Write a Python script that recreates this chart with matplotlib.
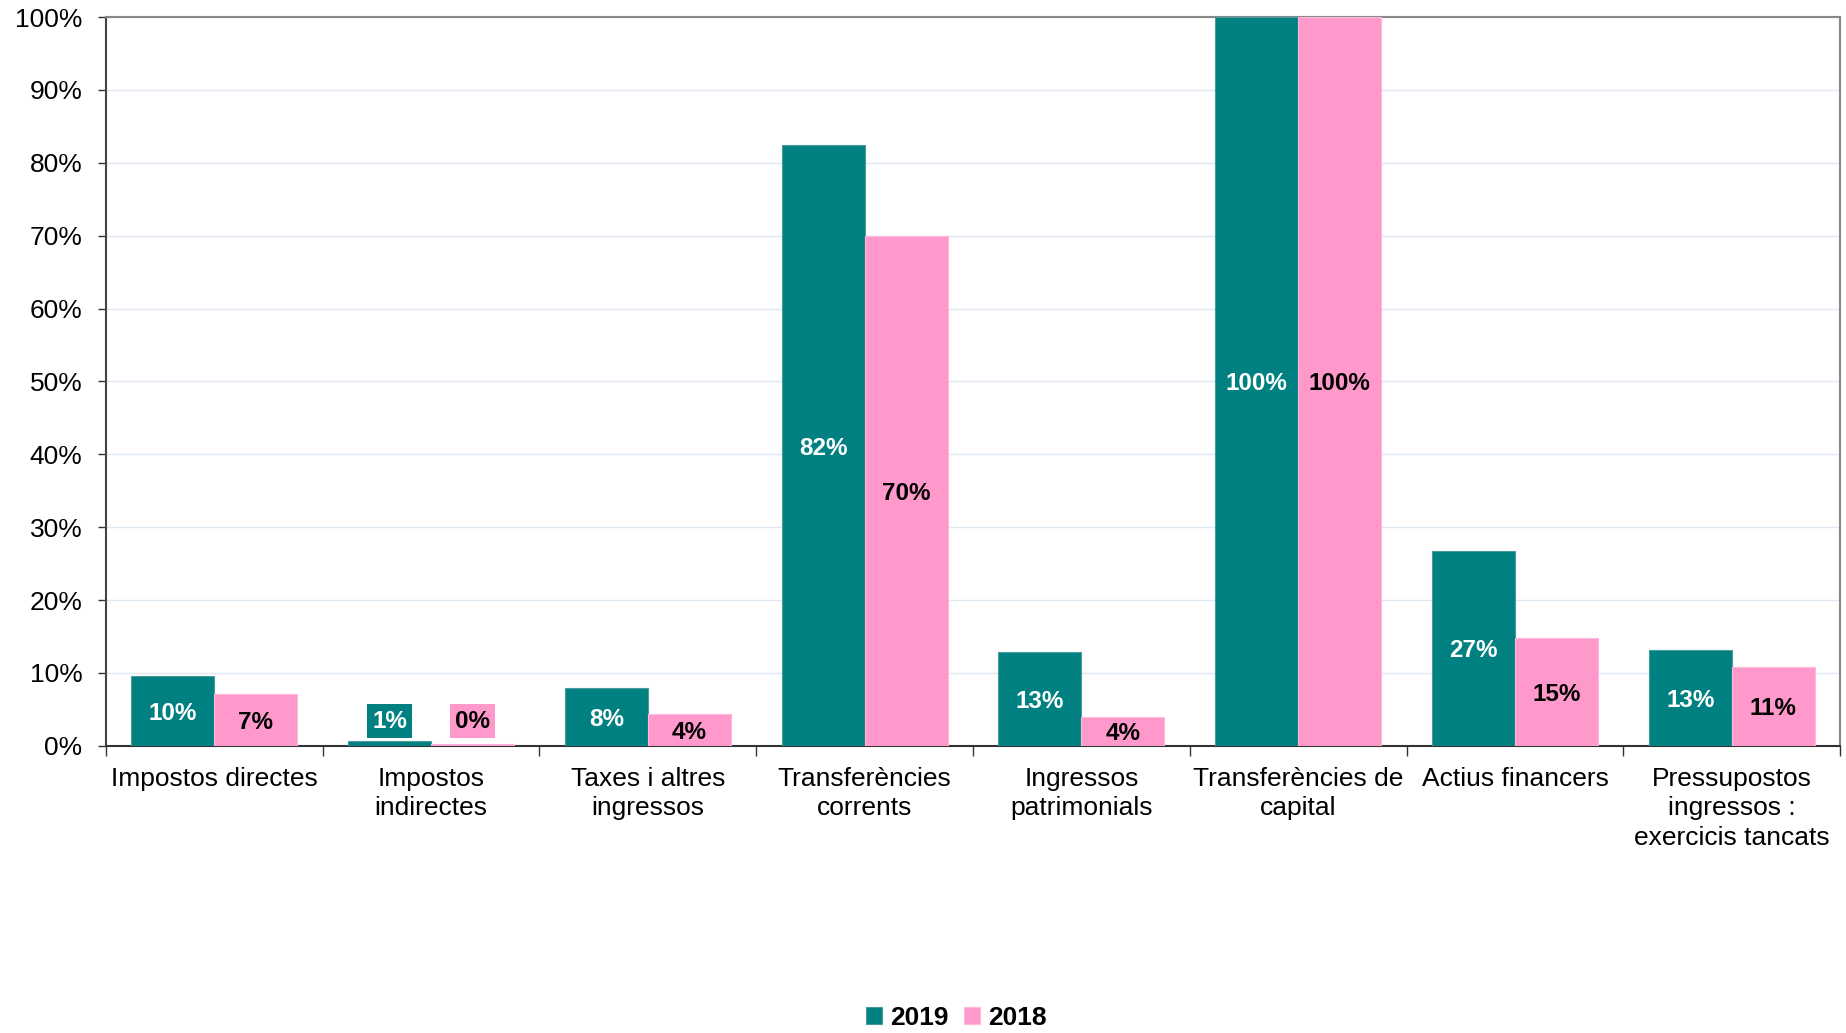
import numpy as np
import matplotlib.pyplot as plt

plt.rcParams['font.family'] = ['Liberation Sans', 'DejaVu Sans']

categories = ["Impostos directes", "Impostos\nindirectes", "Taxes i altres\ningressos",
              "Transferències\ncorrents", "Ingressos\npatrimonials", "Transferències de\ncapital",
              "Actius financers", "Pressupostos\ningressos :\nexercicis tancats"]
values_2019 = [9.6, 0.65, 7.9, 82.4, 12.9, 100.0, 26.8, 13.2]
values_2018 = [7.1, 0.3, 4.4, 69.9, 4.0, 100.0, 14.8, 10.8]
series_names = ["2019", "2018"]

teal = "#008080"
pink = "#ff99cc"

fig = plt.figure(figsize=(18.46, 10.33), dpi=100)
ax = fig.add_axes([0.0574, 0.278, 0.9394, 0.7055])

x = np.arange(len(categories))
w = 0.383
b1 = ax.bar(x - w / 2, values_2019, w, color=teal, edgecolor="#4a9c9c", linewidth=0.8,
            label=series_names[0], zorder=3)
b2 = ax.bar(x + w / 2, values_2018, w, color=pink, edgecolor="#ffb8dc", linewidth=0.8,
            label=series_names[1], zorder=3)


def put_labels(bars, vals, txtcolor, boxcolor):
    for rect, v in zip(bars, vals):
        cx = rect.get_x() + rect.get_width() / 2
        if v < 3:
            ax.text(cx, 3.4, f"{v:.0f}%", ha="center", va="center", fontsize=17.5,
                    fontweight="bold", color=txtcolor, zorder=5,
                    bbox=dict(boxstyle="square,pad=0.22", fc=boxcolor, ec="none"))
        else:
            ax.text(cx, v / 2, f"{v:.0f}%", ha="center", va="center_baseline", fontsize=17.5,
                    fontweight="bold", color=txtcolor, zorder=5)


put_labels(b1, values_2019, "white", teal)
put_labels(b2, values_2018, "black", pink)

ax.set_xlim(-0.5, len(categories) - 0.5)
ax.set_ylim(0, 100)
ax.set_yticks(np.arange(0, 101, 10))
ax.set_yticklabels([f"{t}%" for t in range(0, 101, 10)], fontsize=19)
ax.tick_params(axis="y", length=6, width=1, pad=11, color="#333333")

ax.set_xticks(x)
ax.set_xticklabels(categories, fontsize=19, linespacing=1.3, va="top")
ax.tick_params(axis="x", which="major", length=0, pad=15)
ax.set_xticks(np.arange(-0.5, len(categories), 1), minor=True)
ax.tick_params(axis="x", which="minor", length=7, width=1, color="#333333")

ax.grid(axis="y", color="#dde8f3", linewidth=1, zorder=0)
ax.set_axisbelow(True)
for s in ["top", "right"]:
    ax.spines[s].set_color("#888888")
    ax.spines[s].set_linewidth(1.5)
ax.spines["left"].set_color("#444444")
ax.spines["left"].set_linewidth(1.5)
ax.spines["bottom"].set_color("#333333")
ax.spines["bottom"].set_linewidth(1.5)

fig.legend(loc="center", bbox_to_anchor=(0.518, 0.0145), ncol=2, frameon=False,
           prop={"size": 19, "weight": "bold"}, handlelength=0.6, handleheight=0.6,
           handletextpad=0.3, columnspacing=0.6)

fig.savefig("out.png", dpi=100)
